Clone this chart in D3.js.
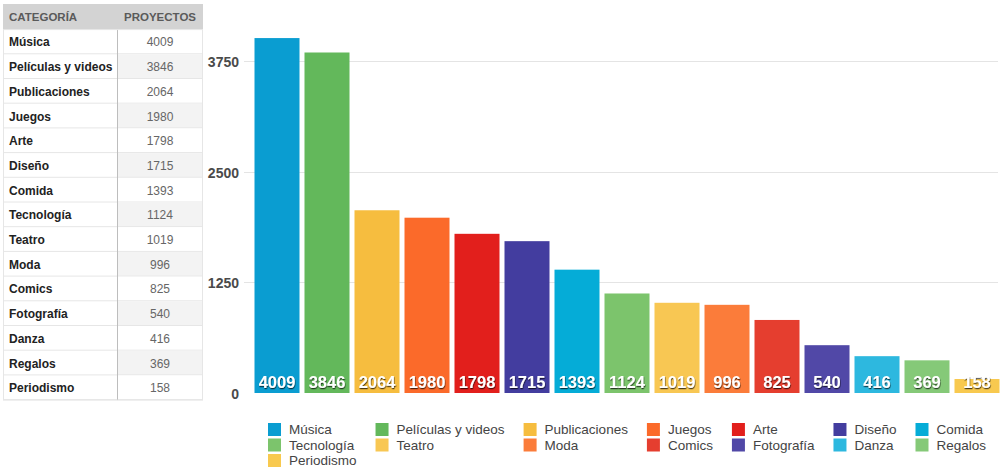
<!DOCTYPE html>
<html>
<head>
<meta charset="utf-8">
<script src="https://cdn.jsdelivr.net/npm/d3@7"></script>
<style>
  body { margin: 0; background: #fff; }
  svg { display: block; font-family: "Liberation Sans", Arial, Helvetica, sans-serif; }
</style>
</head>
<body>
<div id="chart"></div>
<script>
const categories = ['Música', 'Películas y videos', 'Publicaciones', 'Juegos', 'Arte', 'Diseño', 'Comida',
  'Tecnología', 'Teatro', 'Moda', 'Comics', 'Fotografía', 'Danza', 'Regalos', 'Periodismo'];
const projects = [4009, 3846, 2064, 1980, 1798, 1715, 1393, 1124, 1019, 996, 825, 540, 416, 369, 158];
const colors = ['#0a9dd1', '#63b85b', '#f6bd3f', '#fb6a2a', '#e21f1c', '#433d9f', '#05acd7',
  '#7cc46c', '#f8c753', '#fb7c3a', '#e53e2f', '#5148a7', '#2db8df', '#85c978', '#f8c94f'];
const yTicks = [0, 1250, 2500, 3750];
const tableHeaders = ['CATEGORÍA', 'PROYECTOS'];

const W = 1000, H = 471;
const svg = d3.select('#chart').append('svg').attr('width', W).attr('height', H);

// ---- table on the left
const table = {x: 3, y: 4, w: 200, headH: 25.6, rowH: 24.7, split: 117};
const tg = svg.append('g');
tg.append('rect')
  .attr('x', table.x).attr('y', table.y)
  .attr('width', table.w).attr('height', table.headH)
  .attr('fill', '#d3d3d3');
tg.append('text').attr('x', table.x + 6).attr('y', table.y + 17)
  .attr('font-size', 11.5).attr('font-weight', 'bold').attr('fill', '#5a5a5a')
  .text(tableHeaders[0]);
tg.append('text').attr('x', (table.split + table.x + table.w) / 2).attr('y', table.y + 17)
  .attr('text-anchor', 'middle')
  .attr('font-size', 11.5).attr('font-weight', 'bold').attr('fill', '#5a5a5a')
  .text(tableHeaders[1]);

const rows = tg.selectAll('g.row').data(categories).join('g')
  .attr('class', 'row')
  .attr('transform', (d, i) => `translate(0, ${table.y + table.headH + i * table.rowH})`);
rows.append('rect')
  .attr('x', table.split).attr('width', table.x + table.w - table.split).attr('height', table.rowH)
  .attr('fill', (d, i) => i % 2 ? '#f3f3f3' : '#fff');
rows.append('line')
  .attr('x1', table.x).attr('x2', table.x + table.w)
  .attr('y1', table.rowH - 0.5).attr('y2', table.rowH - 0.5)
  .attr('stroke', '#e6e6e6');
rows.append('text')
  .attr('x', table.x + 6).attr('y', table.rowH / 2 + 4.5)
  .attr('font-size', 12).attr('font-weight', 'bold').attr('fill', '#222')
  .text(d => d);
rows.append('text')
  .attr('x', (table.split + table.x + table.w) / 2).attr('y', table.rowH / 2 + 4.5)
  .attr('text-anchor', 'middle')
  .attr('font-size', 12).attr('fill', '#666')
  .text((d, i) => projects[i]);
const tBottom = table.y + table.headH + categories.length * table.rowH;
tg.append('line')
  .attr('x1', table.split + 0.5).attr('x2', table.split + 0.5)
  .attr('y1', table.y + table.headH).attr('y2', tBottom)
  .attr('stroke', '#bdbdbd');
tg.append('rect')
  .attr('x', table.x + 0.5).attr('y', table.y + table.headH)
  .attr('width', table.w - 1).attr('height', tBottom - table.y - table.headH)
  .attr('fill', 'none').attr('stroke', '#e6e6e6');

// ---- bar chart
const plot = {left: 252, right: 1002, top: 20, bottom: 393};
const x = d3.scaleBand().domain(categories)
  .range([plot.left, plot.right]).paddingInner(0.1).paddingOuter(0.05);
const y = d3.scaleLinear().domain([0, 3750]).range([plot.bottom, 61]);

const grid = svg.append('g');
grid.selectAll('line').data(yTicks.filter(t => t > 0)).join('line')
  .attr('x1', 244).attr('x2', 998)
  .attr('y1', d => Math.round(y(d)) + 0.5).attr('y2', d => Math.round(y(d)) + 0.5)
  .attr('stroke', '#e4e4e4');

const yAxis = svg.append('g')
  .attr('transform', 'translate(239, 0)')
  .call(d3.axisLeft(y).tickValues(yTicks).tickSize(0).tickPadding(0).tickFormat(d3.format('d')));
yAxis.select('.domain').remove();
yAxis.selectAll('text')
  .attr('font-family', '"Liberation Sans", Arial, sans-serif')
  .attr('font-size', 14).attr('font-weight', 'bold').attr('fill', '#4a4a4a')
  .attr('dy', '0.4em');

const defs = svg.append('defs');
const f = defs.append('filter').attr('id', 'shadow')
  .attr('x', '-20%').attr('y', '-20%').attr('width', '140%').attr('height', '160%');
f.append('feDropShadow').attr('dx', 0.5).attr('dy', 1.2).attr('stdDeviation', 0.6)
  .attr('flood-color', '#000').attr('flood-opacity', 0.7);

svg.append('g').selectAll('rect').data(categories).join('rect')
  .attr('x', d => x(d))
  .attr('y', (d, i) => y(projects[i]))
  .attr('width', x.bandwidth())
  .attr('height', (d, i) => y(0) - y(projects[i]))
  .attr('fill', (d, i) => colors[i]);

svg.append('g').selectAll('text').data(categories).join('text')
  .attr('x', d => x(d) + x.bandwidth() / 2)
  .attr('y', y(0) - 5)
  .attr('text-anchor', 'middle')
  .attr('font-size', 16.5).attr('font-weight', 'bold')
  .attr('fill', '#fff').attr('filter', 'url(#shadow)')
  .text((d, i) => projects[i]);

// ---- legend: 7 columns, row-major
const nCols = 7;
const legend = svg.append('g').attr('transform', 'translate(268, 423)');
const items = legend.selectAll('g').data(categories).join('g');
items.append('rect').attr('width', 13).attr('height', 13)
  .attr('fill', (d, i) => colors[i]);
items.append('text').attr('x', 21).attr('y', 11)
  .attr('font-size', 13.5).attr('fill', '#444')
  .text(d => d);
const colW = d3.range(nCols).map(c => d3.max(items.filter((d, i) => i % nCols === c).select('text').nodes(),
  n => n.getComputedTextLength()));
const colX = [0];
for (let c = 1; c < nCols; c++) colX.push(colX[c - 1] + 21 + colW[c - 1] + 19);
items.attr('transform', (d, i) => `translate(${colX[i % nCols]}, ${Math.floor(i / nCols) * 15.5})`);
</script>
</body>
</html>
